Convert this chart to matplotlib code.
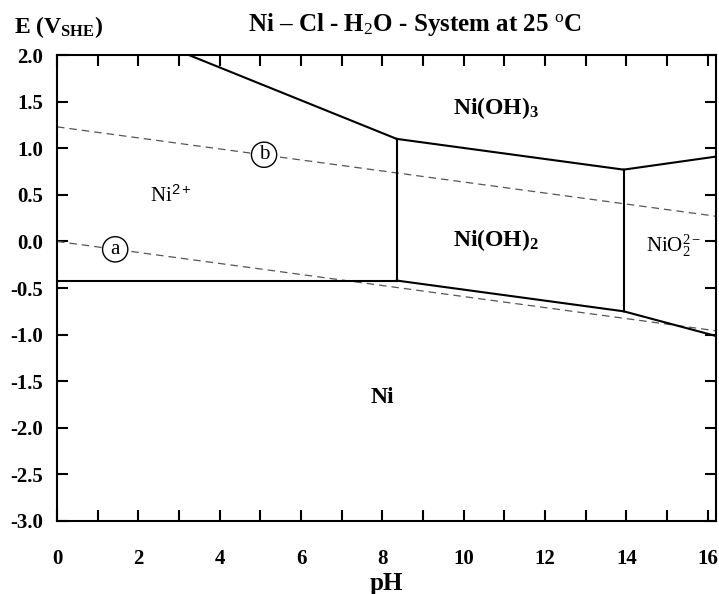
import numpy as np
import matplotlib
matplotlib.use("Agg")
import matplotlib.pyplot as plt

plt.rcParams['font.family'] = 'Liberation Serif'
plt.rcParams['mathtext.fontset'] = 'custom'
plt.rcParams['mathtext.rm'] = 'Liberation Serif'
plt.rcParams['mathtext.it'] = 'Liberation Serif:italic'
plt.rcParams['mathtext.bf'] = 'Liberation Serif:bold'
plt.rcParams['mathtext.sf'] = 'Liberation Sans'

# stability boundaries (pH, E vs SHE)
ni_ni2 = ([0.0, 8.35], [-0.42, -0.42])
ni2_nioh2 = ([8.35, 8.35], [-0.42, 1.10])
ni2_nioh3 = ([3.24, 8.35], [2.00, 1.10])
nioh2_nioh3 = ([8.35, 13.93], [1.10, 0.77])
nioh3_nio2 = ([13.93, 16.2], [0.77, 0.91])
nioh2_nio2 = ([13.93, 13.93], [0.77, -0.75])
ni_nioh2 = ([8.35, 13.93], [-0.42, -0.75])
ni_nio2 = ([13.93, 16.2], [-0.75, -1.015])

# water stability lines a and b
water_ph = [0.0, 16.2]
water_a = [0.0, -0.959]
water_b = [1.229, 0.270]

fig = plt.figure(figsize=(7.19, 5.94), dpi=100)
ax = fig.add_axes([0.0793, 0.1229, 0.9165, 0.7845])

for xs, ys in [ni_ni2, ni2_nioh2, ni2_nioh3, nioh2_nioh3, nioh3_nio2,
               nioh2_nio2, ni_nioh2, ni_nio2]:
    ax.plot(xs, ys, color='black', lw=1.5, zorder=3)

ax.plot(water_ph, water_a, color='#555555', lw=0.9, ls=(0, (6, 4)), zorder=2)
ax.plot(water_ph, water_b, color='#555555', lw=0.9, ls=(0, (6, 4)), zorder=2)

circ = dict(boxstyle='circle,pad=0.15', fc='white', ec='black', lw=1.0)
ax.text(1.43, -0.085, 'a', fontsize=15, ha='center', va='center', bbox=circ, zorder=4)
ax.text(5.09, 0.93, 'b', fontsize=15, ha='center', va='center', bbox=circ, zorder=4)

ax.text(2.8, 0.48, r'Ni$^{\mathsf{2+}}$', fontsize=15, ha='center', va='center')
ax.text(10.8, 1.43, r'Ni(OH)$_\mathbf{3}$', fontsize=17, fontweight='bold', ha='center', va='center')
ax.text(10.8, 0.02, r'Ni(OH)$_\mathbf{2}$', fontsize=17, fontweight='bold', ha='center', va='center')
ax.text(15.15, -0.05, r'NiO$_2^{2-}$', fontsize=15, ha='center', va='center')
ax.text(8.0, -1.68, 'Ni', fontsize=17, fontweight='bold', ha='center', va='center')

ax.set_xlim(0, 16.2)
ax.set_ylim(-3.0, 2.0)
ax.set_xticks(np.arange(0, 17, 1))
ax.set_xticklabels([str(i) if i % 2 == 0 else '' for i in range(17)])
ax.set_yticks(np.arange(-3.0, 2.01, 0.5))
ax.set_yticklabels(['%.1f' % v for v in np.arange(-3.0, 2.01, 0.5)])
ax.tick_params(direction='in', length=8, width=1.5, top=True, right=True,
               labelsize=15)
ax.tick_params(axis='x', pad=20)
ax.tick_params(axis='y', pad=10)
for lab in ax.get_xticklabels() + ax.get_yticklabels():
    lab.set_fontweight('bold')
for sp in ax.spines.values():
    sp.set_linewidth(1.5)

ax.set_xlabel('pH', fontsize=18, fontweight='bold', labelpad=2)
fig.text(0.02, 0.955, r'E (V$_\mathbf{SHE}$)', fontsize=17, fontweight='bold', va='center')
fig.text(0.577, 0.958, r'Ni – Cl - H$_2$O - System at 25 $^\mathrm{o}$C', fontsize=18,
         fontweight='bold', ha='center', va='center')

fig.savefig('out.png', dpi=100)
